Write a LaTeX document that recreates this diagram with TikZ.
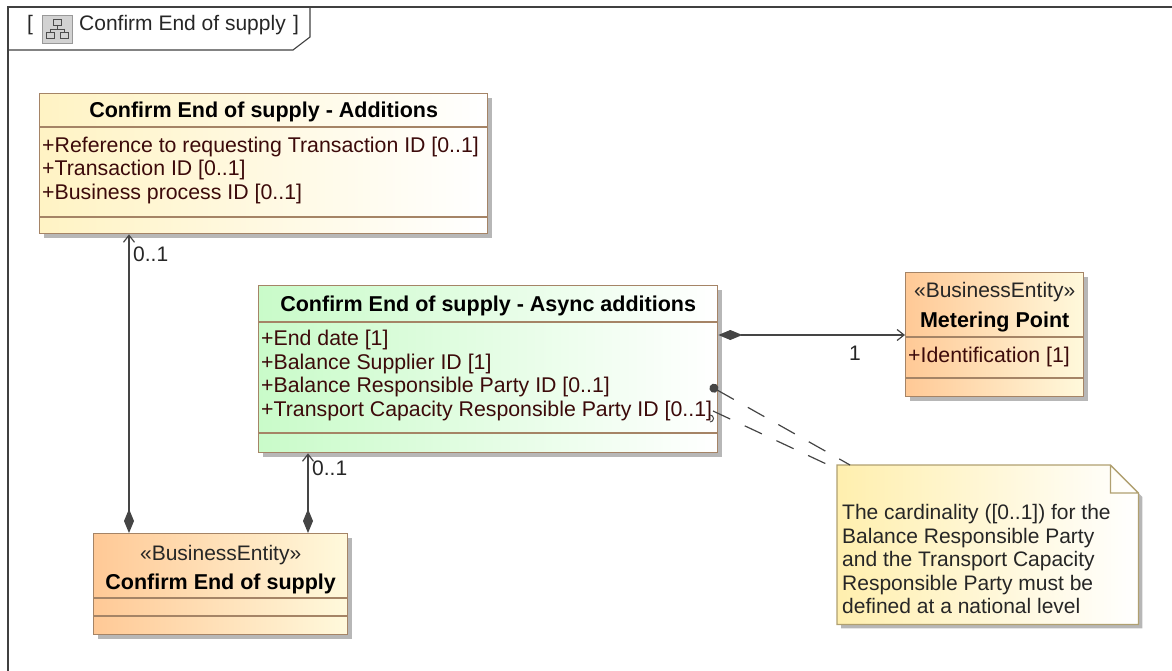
\documentclass[tikz,border=0pt]{standalone}
\usepackage{fontspec}
\setmainfont{Liberation Sans}
\usetikzlibrary{positioning,shadows,arrows.meta}

\definecolor{umlborder}{HTML}{A58466}
\definecolor{attrcol}{HTML}{3C0A0A}
\definecolor{linkcol}{HTML}{454545}
\definecolor{addfill}{HTML}{FFF3C4}
\definecolor{asyncfill}{HTML}{C9FBC9}
\definecolor{entityfill}{HTML}{FFC996}
\definecolor{entityright}{HTML}{FFF9DC}
\definecolor{notefill}{HTML}{FFEFAE}
\definecolor{noteborder}{HTML}{B0A070}

\tikzset{
  frameline/.style={draw=black!75, line width=1.1pt},
  tabtext/.style={inner sep=0pt, text=black!85},
  iconbox/.style={draw=gray!80, fill=gray!35, minimum width=30pt, minimum height=28pt, inner sep=0pt},
  icontree/.style={draw=black!70, line width=0.7pt},
  boxshadow/.style={drop shadow={shadow xshift=4pt, shadow yshift=-4pt, fill=black!40, opacity=0.7}},
  classbox/.style={draw=umlborder, line width=1.3pt, anchor=north west, inner sep=0pt, boxshadow},
  compart/.style={draw=umlborder, line width=1.1pt},
  ctitle/.style={inner sep=0pt, anchor=base, font=\fontsize{21.5}{24}\bfseries\selectfont},
  stereo/.style={inner sep=0pt, anchor=base, text=black!85},
  attr/.style={inner sep=0pt, anchor=base west, text=attrcol, font=\fontsize{21.3}{23.5}\selectfont},
  mult/.style={inner sep=0pt, text=black!85},
  notetext/.style={inner sep=0pt, anchor=base west, text=black!85},
  assoc/.style={draw=linkcol, line width=1.2pt,
    {Diamond[length=24pt, width=10pt]}-{Straight Barb[length=7pt, width=11pt]}},
  notelink/.style={draw=linkcol, line width=1.2pt, dash pattern=on 19pt off 16pt},
}

\begin{document}
\begin{tikzpicture}[x=1pt, y=-1pt, font=\fontsize{21}{23.5}\selectfont]
  \useasboundingbox (0,0) rectangle (1172,671);
  \clip (0,0) rectangle (1172,671);

  % diagram frame and its tab
  \draw[frameline] (8,7) rectangle (1200,700);
  \draw[frameline] (8,50) -- (293,50) -- (310,37) -- (310,7);
  \node[tabtext, anchor=west] (lbr) at (27,25) {[};
  \node[iconbox] (icon) at (57,29) {};
  \begin{scope}[shift={(icon.center)}]
    \draw[icontree] (-4,-10) rectangle (4,-4);
    \draw[icontree] (0,-4) -- (0,0) (-7,0) -- (7,0) (-7,0) -- (-7,3) (7,0) -- (7,3);
    \draw[icontree] (-11,3) rectangle (-3,9) (3,3) rectangle (11,9);
  \end{scope}
  \node[tabtext, anchor=west] (frametitle) at (79,25) {Confirm End of supply};
  \node[tabtext, anchor=west] (rbr) at (293,25) {]};

  % Confirm End of supply - Additions
  \node[classbox, left color=addfill, right color=white,
        minimum width=448pt, minimum height=140pt] (add) at (39,93) {};
  \draw[compart] ([yshift=-34pt]add.north west) -- ([yshift=-34pt]add.north east);
  \draw[compart] ([yshift=-124pt]add.north west) -- ([yshift=-124pt]add.north east);
  \node[ctitle] (addtitle) at ([yshift=-24.5pt]add.north) {Confirm End of supply - Additions};
  \foreach \t [count=\i] in {+Reference to requesting Transaction ID [0..1],
                              +Transaction ID [0..1], +Business process ID [0..1]}
    \node[attr] (addattr\i) at ([xshift=3pt, yshift={-59.5pt-(\i-1)*23.5pt}]add.north west) {\t};

  % Confirm End of supply - Async additions
  \node[classbox, left color=asyncfill, right color=white,
        minimum width=459pt, minimum height=167pt] (async) at (258,285) {};
  \draw[compart] ([yshift=-37pt]async.north west) -- ([yshift=-37pt]async.north east);
  \draw[compart] ([yshift=-148pt]async.north west) -- ([yshift=-148pt]async.north east);
  \node[ctitle] (asynctitle) at ([yshift=-26pt]async.north) {Confirm End of supply - Async additions};
  \foreach \t [count=\i] in {+End date [1], +Balance Supplier ID [1],
                              +Balance Responsible Party ID [0..1],
                              +Transport Capacity Responsible Party ID [0..1]}
    \node[attr] (asyncattr\i) at ([xshift=3pt, yshift={-60.5pt-(\i-1)*23.7pt}]async.north west) {\t};

  % Metering Point
  \node[classbox, left color=entityfill, right color=entityright,
        minimum width=178pt, minimum height=124pt] (meter) at (905,272) {};
  \draw[compart] ([yshift=-65pt]meter.north west) -- ([yshift=-65pt]meter.north east);
  \draw[compart] ([yshift=-106pt]meter.north west) -- ([yshift=-106pt]meter.north east);
  \node[stereo] (meterstereo) at ([yshift=-25.5pt]meter.north) {«BusinessEntity»};
  \node[ctitle] (metertitle) at ([yshift=-55pt]meter.north) {Metering Point};
  \node[attr] (meterattr) at ([xshift=3pt, yshift=-90.5pt]meter.north west) {+Identification [1]};

  % Confirm End of supply (business entity)
  \node[classbox, left color=entityfill, right color=entityright,
        minimum width=254pt, minimum height=101pt] (esup) at (93,533) {};
  \draw[compart] ([yshift=-65pt]esup.north west) -- ([yshift=-65pt]esup.north east);
  \draw[compart] ([yshift=-83pt]esup.north west) -- ([yshift=-83pt]esup.north east);
  \node[stereo] (esupstereo) at ([yshift=-27.5pt]esup.north) {«BusinessEntity»};
  \node[ctitle] (esuptitle) at ([yshift=-56pt]esup.north) {Confirm End of supply};

  % note
  \node[inner sep=0pt, anchor=north west, minimum width=301pt, minimum height=159pt] (note) at (837,465) {};
  \path[left color=notefill, right color=white, boxshadow]
    (note.north west) -- ([xshift=-28pt]note.north east) -- ([yshift=-28pt]note.north east)
    -- (note.south east) -- (note.south west) -- cycle;
  \draw[draw=noteborder, line width=1.3pt]
    (note.north west) -- ([xshift=-28pt]note.north east) -- ([yshift=-28pt]note.north east)
    -- (note.south east) -- (note.south west) -- cycle
    ([xshift=-28pt]note.north east) -- ([xshift=-28pt, yshift=-28pt]note.north east)
    -- ([yshift=-28pt]note.north east);
  \foreach \t [count=\i] in {The cardinality ({[0..1]}) for the, Balance Responsible Party,
                              and the Transport Capacity, Responsible Party must be,
                              defined at a national level}
    \node[notetext] (notel\i) at ([xshift=5pt, yshift={-54.5pt-(\i-1)*23.5pt}]note.north west) {\t};

  % associations
  \coordinate (addfoot) at ([xshift=36pt]esup.north west);
  \draw[assoc] (addfoot) -- (addfoot |- add.south);
  \node[mult, anchor=west] (addmult) at ([xshift=4pt, yshift=-20pt]addfoot |- add.south) {0..1};

  \coordinate (asyncfoot) at ([xshift=215pt]esup.north west);
  \draw[assoc] (asyncfoot) -- (asyncfoot |- async.south);
  \node[mult, anchor=west] (asyncmult) at ([xshift=4pt, yshift=-15pt]asyncfoot |- async.south) {0..1};

  \coordinate (asyncside) at ([yshift=-50pt]async.north east);
  \draw[assoc] (asyncside) -- (asyncside -| meter.west);
  \node[mult] (metermult) at (855,353) {1};

  % note links
  \coordinate (brpend) at (710,386);
  \coordinate (tcpend) at (713,411);
  \draw[notelink, {Circle[length=9pt]}-] (brpend) -- ([xshift=13pt]note.north west);
  \draw[notelink] (tcpend) -- ([yshift=-4pt]note.north west);
  \draw[linkcol, line width=1pt] ([xshift=-3pt, yshift=-4pt]tcpend) arc[start angle=90, end angle=-90, radius=3.5pt];
\end{tikzpicture}
\end{document}
